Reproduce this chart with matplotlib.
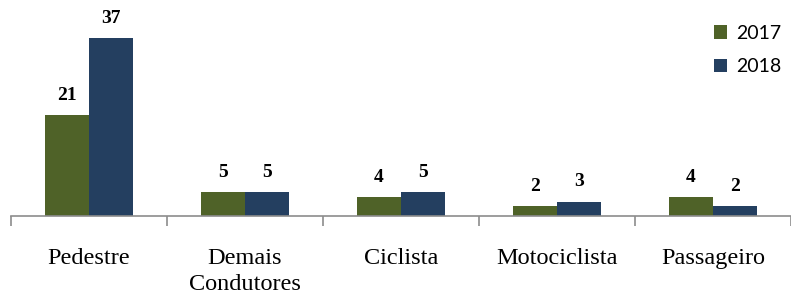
import numpy as np
import matplotlib.pyplot as plt

categorias = ['Pedestre', 'Demais\nCondutores', 'Ciclista', 'Motociclista', 'Passageiro']
v2017 = [21, 5, 4, 2, 4]
v2018 = [37, 5, 5, 3, 2]
anos = ['2017', '2018']

cor17 = '#4f6228'
cor18 = '#243f60'

fig = plt.figure(figsize=(7.91, 2.90), dpi=100)
ax = fig.add_axes([11/791, 74/290, 780/791, 216/290])

x = np.arange(len(categorias))
w = 0.285
b1 = ax.bar(x - w/2, v2017, w, color=cor17, label=anos[0], edgecolor='none')
b2 = ax.bar(x + w/2, v2018, w, color=cor18, label=anos[1], edgecolor='none')

for bars in (b1, b2):
    for r in bars:
        ax.annotate(str(int(r.get_height())), (r.get_x() + r.get_width()/2, r.get_height()),
                    xytext=(0, 8), textcoords='offset points', ha='center', va='bottom',
                    fontsize=14, fontweight='bold', family='Liberation Serif')

ax.set_xlim(-0.5, len(categorias) - 0.5)
ax.set_ylim(0, 44.9)
ax.set_yticks([])
for s in ['top', 'right', 'left']:
    ax.spines[s].set_visible(False)
ax.spines['bottom'].set_color('#8c8c8c')
ax.spines['bottom'].set_linewidth(1.2)

ax.set_xticks(x)
ax.set_xticklabels(categorias, fontsize=17.5, family='Liberation Serif', va='top', linespacing=1.3)
ax.tick_params(axis='x', which='major', length=0, pad=23)
ax.set_xticks(np.arange(len(categorias) + 1) - 0.5, minor=True)
ax.tick_params(axis='x', which='minor', length=7, width=1.2, color='#8c8c8c', direction='out')

leg = ax.legend(loc='upper right', bbox_to_anchor=(1.012, 0.975), frameon=False,
                prop={'family': 'Lato', 'size': 14}, handlelength=0.65, handleheight=0.7,
                handletextpad=0.45, labelspacing=0.85, borderaxespad=0.6)

fig.savefig('out.png', dpi=100)
